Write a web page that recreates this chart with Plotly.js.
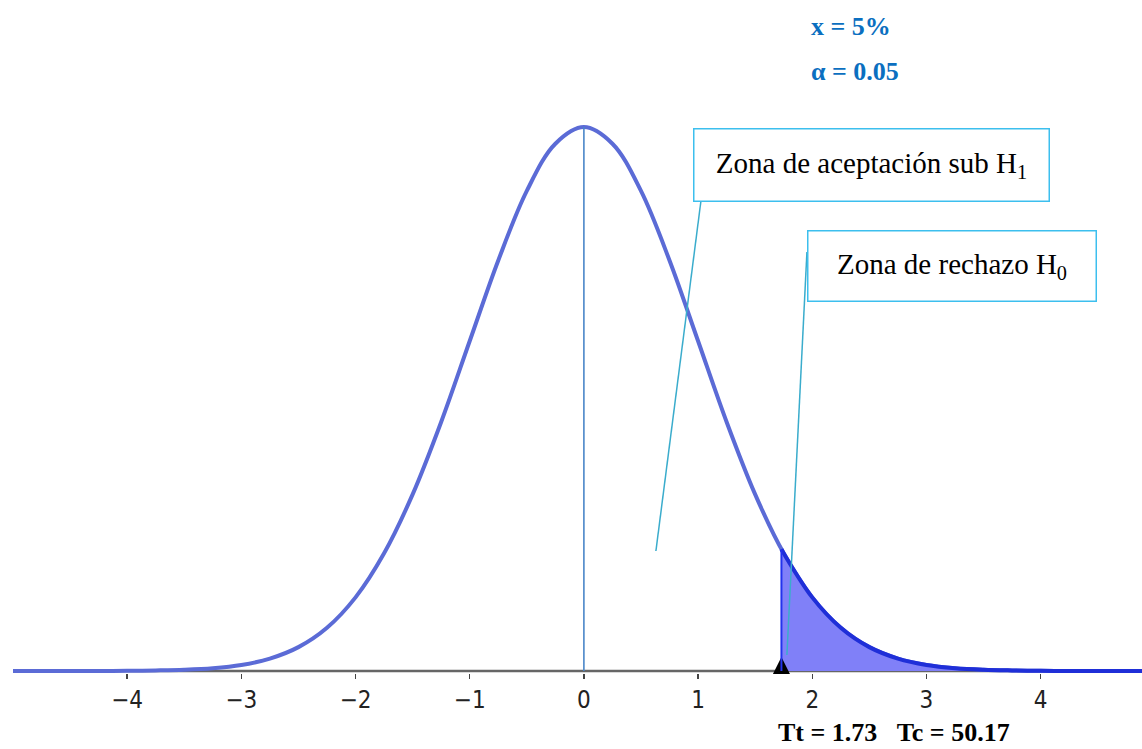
<!DOCTYPE html>
<html>
<head>
<meta charset="utf-8">
<script src="https://cdn.plot.ly/plotly-3.0.1.min.js"></script>
<style>
  html, body { margin: 0; padding: 0; background: #ffffff; }
  #chart { width: 1142px; height: 749px; }
</style>
</head>
<body>
<div id="chart"></div>
<script>
// ---- data ----
const zValues = [-5, -4.75, -4.5, -4.25, -4, -3.75, -3.5, -3.25, -3, -2.75, -2.5, -2.25, -2, -1.75, -1.5, -1.25, -1, -0.75, -0.5, -0.25,
                 0, 0.25, 0.5, 0.75, 1, 1.25, 1.5, 1.75, 2, 2.25, 2.5, 2.75, 3, 3.25, 3.5, 3.75, 4, 4.25, 4.5, 4.75, 5];
const density = [0.0000, 0.0000, 0.0000, 0.0000, 0.0001, 0.0004, 0.0009, 0.0020, 0.0044, 0.0091, 0.0175, 0.0317, 0.0540, 0.0863, 0.1295, 0.1826, 0.2420, 0.3011, 0.3521, 0.3867,
                 0.3989, 0.3867, 0.3521, 0.3011, 0.2420, 0.1826, 0.1295, 0.0863, 0.0540, 0.0317, 0.0175, 0.0091, 0.0044, 0.0020, 0.0009, 0.0004, 0.0001, 0.0000, 0.0000, 0.0000, 0.0000];
const tTabla = 1.73;          // Tt
const densityAtTt = 0.0893;   // curve height at Tt
const peakDensity = 0.3989;
const tickValues = [-4, -3, -2, -1, 0, 1, 2, 3, 4];
const tickLabels = ['\u22124', '\u22123', '\u22122', '\u22121', '0', '1', '2', '3', '4'];
const alphaText = '\u03b1 = 0.05';
const xText = 'x = 5%';
const bottomText = 'Tt = 1.73\u00a0\u00a0\u00a0Tc = 50.17';

// rejection tail
const tailX = [tTabla];
const tailY = [densityAtTt];
zValues.forEach((z, i) => { if (z > tTabla) { tailX.push(z); tailY.push(density[i]); } });

const traces = [
  {
    x: zValues, y: density, type: 'scatter', mode: 'lines',
    line: { color: '#5b6bd6', width: 4, shape: 'spline' },
    hoverinfo: 'skip'
  },
  {
    x: tailX, y: tailY, type: 'scatter', mode: 'lines',
    fill: 'tozeroy', fillcolor: '#8080f8',
    line: { color: '#1f2fd8', width: 4, shape: 'spline' },
    hoverinfo: 'skip'
  },
  {
    x: [tTabla], y: [0.0103], type: 'scatter', mode: 'markers',
    marker: { symbol: 'arrow-up', size: 17, color: '#000000', line: { width: 0 } },
    cliponaxis: false, hoverinfo: 'skip'
  }
];

const serif = 'Liberation Serif, Times New Roman, serif';

const layout = {
  width: 1142, height: 749,
  margin: { l: 13, r: 0, t: 0, b: 76 },
  paper_bgcolor: '#ffffff', plot_bgcolor: '#ffffff',
  showlegend: false,
  hovermode: false,
  xaxis: {
    range: [-5, 4.888], showgrid: false, zeroline: false, showline: false,
    tickmode: 'array', tickvals: tickValues, ticktext: tickLabels,
    ticks: 'outside', ticklen: 5, tickwidth: 1.5, tickcolor: '#444',
    tickfont: { family: 'DejaVu Sans Condensed, Liberation Sans Narrow, Arial Narrow, Liberation Sans, Arial', size: 24, color: '#222' }
  },
  yaxis: {
    range: [-0.00147, 0.4921], showgrid: false, zeroline: false, showline: false,
    showticklabels: false, ticks: ''
  },
  shapes: [
    { type: 'line', xref: 'paper', yref: 'y', x0: 0, x1: 1, y0: 0, y1: 0, line: { color: '#666666', width: 2.5 }, layer: 'below' },
    { type: 'line', xref: 'x', yref: 'y', x0: 0, x1: 0, y0: 0, y1: peakDensity, line: { color: '#4a86c8', width: 1.6 } },
    { type: 'line', xref: 'x', yref: 'y', x0: tTabla, x1: tTabla, y0: 0, y1: densityAtTt, line: { color: '#2233ee', width: 2 } },
    { type: 'line', xref: 'x', yref: 'y', x0: 1.025, y0: 0.3447, x1: 0.6307, y1: 0.0880, line: { color: '#3aaccc', width: 1.5 } },
    { type: 'line', xref: 'x', yref: 'y', x0: 1.9535, y0: 0.3073, x1: 1.778, y1: 0.0117, line: { color: '#3aaccc', width: 1.5 } }
  ],
  annotations: [
    {
      x: 2.523, y: 0.3714, xref: 'x', yref: 'y', showarrow: false,
      text: 'Zona de aceptación sub H<sub>1</sub>',
      font: { family: serif, size: 29, color: '#000' },
      bordercolor: '#3cbfee', borderwidth: 1.5, borderpad: 7, bgcolor: '#ffffff',
      width: 340, height: 57, align: 'center', valign: 'middle'
    },
    {
      x: 3.228, y: 0.2970, xref: 'x', yref: 'y', showarrow: false,
      text: 'Zona de rechazo H<sub>0</sub>',
      font: { family: serif, size: 29, color: '#000' },
      bordercolor: '#3cbfee', borderwidth: 1.5, borderpad: 7, bgcolor: '#ffffff',
      width: 273, height: 55, align: 'center', valign: 'middle'
    },
    {
      x: 0.705, y: 0.960, xref: 'paper', yref: 'paper', xanchor: 'left', yanchor: 'middle', showarrow: false,
      text: '<b>' + xText + '</b>',
      font: { family: serif, size: 26, color: '#0b6fc0' }
    },
    {
      x: 0.705, y: 0.8945, xref: 'paper', yref: 'paper', xanchor: 'left', yanchor: 'middle', showarrow: false,
      text: '<b>' + alphaText + '</b>',
      font: { family: serif, size: 26, color: '#0b6fc0' }
    },
    {
      x: 0.6758, y: -0.0877, xref: 'paper', yref: 'paper', xanchor: 'left', yanchor: 'middle', showarrow: false,
      text: '<b>' + bottomText + '</b>',
      font: { family: serif, size: 26, color: '#000' }
    }
  ]
};

Plotly.newPlot('chart', traces, layout, { displayModeBar: false, staticPlot: true });
</script>
</body>
</html>
